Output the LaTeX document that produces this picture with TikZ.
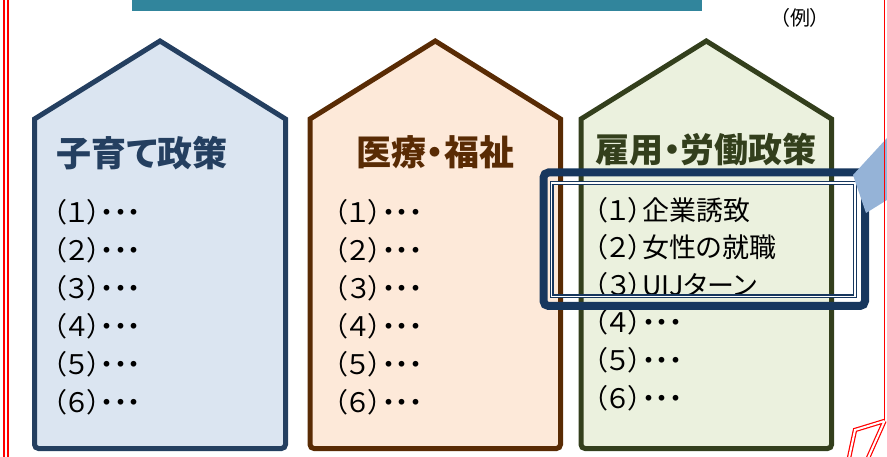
\documentclass[tikz,border=0pt]{standalone}
\usepackage{fontspec}
\newfontfamily\jpfont{Noto Sans CJK JP}[RawFeature=+palt]
\definecolor{barteal}{HTML}{31859C}
\definecolor{kidsline}{HTML}{243F60}
\definecolor{kidsfill}{HTML}{DBE5F1}
\definecolor{careline}{HTML}{592B04}
\definecolor{carefill}{HTML}{FDE9D9}
\definecolor{workline}{HTML}{333F1C}
\definecolor{workfill}{HTML}{EBF1DE}
\definecolor{framenavy}{HTML}{17375E}
\definecolor{calloutblue}{HTML}{95B3D7}
\tikzset{
  house/.style={line width=5, line join=miter},
  title/.style={font=\jpfont\bfseries\fontsize{35}{40}\selectfont, inner sep=0},
  item/.style={font=\jpfont\fontsize{27}{32}\selectfont, anchor=west, inner sep=0},
}
\begin{document}
\begin{tikzpicture}[x=1pt, y=-1pt]
  \useasboundingbox (0,0) rectangle (887,457);
  \fill[barteal] (132,0) rectangle (702,11);
  \draw (800,18) node[font=\jpfont\fontsize{20}{24}\selectfont, inner sep=0] (ex) {（例）};
  \begin{scope}[xshift=160]
    \draw[house, draw=kidsline, fill=kidsfill] (0,41) -- (125.5,119) [rounded corners=4] -- (125.5,448.5) -- (-125.5,448.5) [sharp corners] -- (-125.5,119) -- cycle;
    \draw (-18,153) node[title, text=kidsline] (kids) {子育て政策};
    \draw
    (-107,212) node[item] (k1) {（１）・・・}
    (-107,250) node[item] (k2) {（２）・・・}
    (-107,288) node[item] (k3) {（３）・・・}
    (-107,326) node[item] (k4) {（４）・・・}
    (-107,364) node[item] (k5) {（５）・・・}
    (-107,402) node[item] (k6) {（６）・・・};
  \end{scope}
  \begin{scope}[xshift=435.25]
    \draw[house, draw=careline, fill=carefill] (0,41) -- (125.25,119) [rounded corners=4] -- (125.25,448.5) -- (-125.25,448.5) [sharp corners] -- (-125.25,119) -- cycle;
    \draw (0,152) node[title, text=careline] (care) {医療・福祉};
    \draw
    (-101,212) node[item] (c1) {（１）・・・}
    (-101,250) node[item] (c2) {（２）・・・}
    (-101,288) node[item] (c3) {（３）・・・}
    (-101,326) node[item] (c4) {（４）・・・}
    (-101,364) node[item] (c5) {（５）・・・}
    (-101,402) node[item] (c6) {（６）・・・};
  \end{scope}
  \begin{scope}[xshift=706.3]
    \draw[house, draw=workline, fill=workfill] (0,41) -- (125.3,119) [rounded corners=4] -- (125.3,448.5) -- (-125.3,448.5) [sharp corners] -- (-125.3,119) -- cycle;
    \draw (0,150) node[title, text=workline, font=\jpfont\bfseries\fontsize{34}{40}\selectfont] (work) {雇用・労働政策};
    \draw
    (-112,210) node[item] (w1) {（１）企業誘致}
    (-112,247.5) node[item] (w2) {（２）女性の就職}
    (-112,285) node[item] (w3) {（３）UIJターン}
    (-112,322.5) node[item] (w4) {（４）・・・}
    (-112,360) node[item] (w5) {（５）・・・}
    (-112,398) node[item] (w6) {（６）・・・};
  \end{scope}
  % highlight round the example items
  \draw[framenavy, line width=8, rounded corners=5] (543.5,172.5) rectangle (865,306);
  \draw[framenavy, line width=1.2, double, double distance=1.6] (551.5,183.3) rectangle (855,296.5);
  \fill[calloutblue] (853,175) -- (887,138) -- (887,200) -- (866,213) -- cycle;
  % page border
  \draw[red, line width=1.2, double, double distance=2.8] (6,0) -- (6,457);
  \draw[red, line width=1.3] (884.5,0) -- (884.5,421);
  \draw[red, line width=1.2, double, double distance=2] (884.5,421) -- (855,430) -- (849,458) (884.5,421) -- (868,458);
\end{tikzpicture}
\end{document}
